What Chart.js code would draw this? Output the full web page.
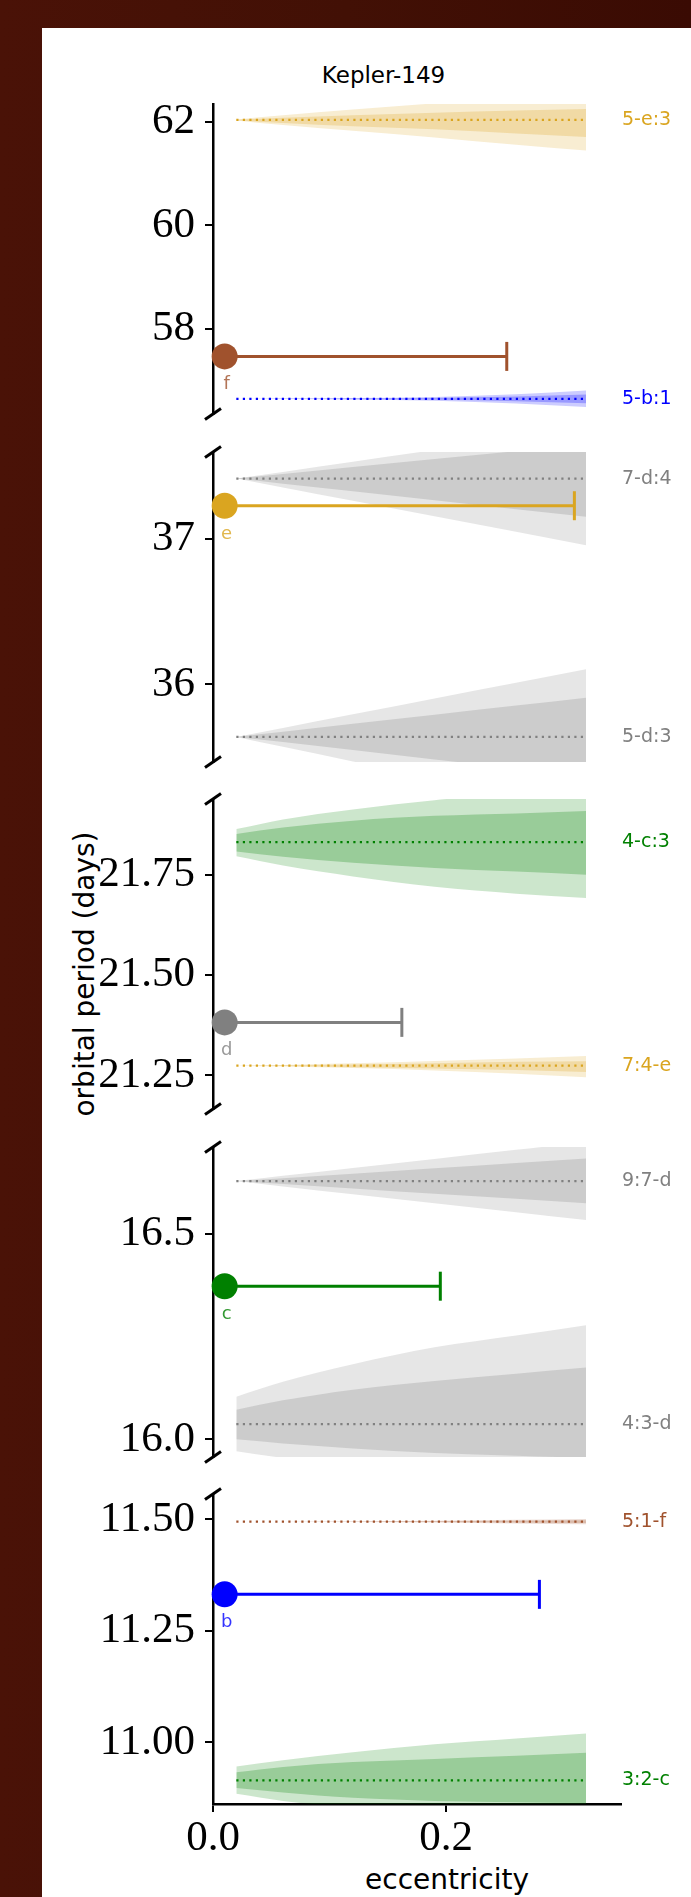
<!DOCTYPE html>
<html>
<head>
<meta charset="utf-8">
<title>Kepler-149</title>
<script src="https://cdn.jsdelivr.net/npm/chart.js@4/dist/chart.umd.min.js"></script>
<style>
  html, body { margin: 0; padding: 0; }
  body {
    width: 691px; height: 1897px; position: relative; overflow: hidden;
    background: linear-gradient(90deg, #4a1207 0%, #421005 50%, #3a0b03 100%);
  }
  #sheet { position: absolute; left: 42px; top: 28px; width: 649px; height: 1869px; background: #fff; }
  canvas { position: absolute; left: 0; }
  .txt { position: absolute; font-family: "DejaVu Sans", sans-serif; color: #000; white-space: nowrap; line-height: 1; }
  #title { left: 383.5px; top: 75px; font-size: 23px; transform: translate(-50%, -50%); }
  #ylab { left: 85px; top: 974px; font-size: 28px; transform: translate(-50%, -50%) rotate(-90deg); }
  #xlab { left: 447px; top: 1880px; font-size: 28px; transform: translate(-50%, -50%); }
</style>
</head>
<body>
<div id="sheet"></div>
<div class="txt" id="title">Kepler-149</div>
<div class="txt" id="ylab">orbital period (days)</div>
<div class="txt" id="xlab">eccentricity</div>
<script>
// ---- eccentricity axis ----
const X_MIN = 0;
const X_MAX = 0.35;
const X_TICKS = [0.0, 0.2];
const X_TICK_LABELS = ['0.0', '0.2'];

// ---- broken period axis: one segment per panel, top to bottom ----
const PANEL_MIN = [56.357, 35.465, 21.166, 15.957, 10.862];
const PANEL_MAX = [62.348, 37.600, 21.939, 16.712, 11.557];
const PANEL_TICKS = [[62, 60, 58], [37, 36], [21.75, 21.50, 21.25], [16.5, 16.0], [11.50, 11.25, 11.00]];
const PANEL_TICK_LABELS = [['62', '60', '58'], ['37', '36'], ['21.75', '21.50', '21.25'], ['16.5', '16.0'], ['11.50', '11.25', '11.00']];

// ---- planets: period (days), eccentricity and its upper limit ----
const PLANET_NAMES = ['f', 'e', 'd', 'c', 'b'];
const PLANET_PANEL = [0, 1, 2, 3, 4];
const PLANET_PERIOD = [57.47, 37.23, 21.382, 16.373, 11.332];
const PLANET_ECC = [0.01, 0.01, 0.01, 0.01, 0.01];
const PLANET_ECC_UPPER = [0.252, 0.31, 0.162, 0.195, 0.28];
const PLANET_COLOR = ['#a0522d', '#daa520', '#808080', '#008000', '#0000ff'];

// ---- mean-motion resonances near each planet ----
const RES_LABELS = ['5-e:3', '5-b:1', '7-d:4', '5-d:3', '4-c:3', '7:4-e', '9:7-d', '4:3-d', '5:1-f', '3:2-c'];
const RES_PANEL = [0, 0, 1, 1, 2, 2, 3, 3, 4, 4];
const RES_CENTER = [62.04, 56.65, 37.417, 35.638, 21.8315, 21.274, 16.629, 16.037, 11.495, 10.915];
const RES_COLOR = ['#daa520', '#0000ff', '#808080', '#808080', '#008000', '#daa520', '#808080', '#808080', '#a0522d', '#008000'];

// resonance widths sampled on this eccentricity grid
const BAND_ECC = [0.02, 0.06, 0.12, 0.19, 0.26, 0.32];
const RES_OUTER_HI = [
  [62.050, 62.130, 62.240, 62.360, 62.450, 62.520],
  [56.650, 56.655, 56.665, 56.685, 56.740, 56.810],
  [37.417, 37.463, 37.533, 37.614, 37.695, 37.765],
  [35.638, 35.700, 35.793, 35.902, 36.010, 36.104],
  [21.864, 21.888, 21.913, 21.936, 21.955, 21.968],
  [21.274, 21.276, 21.280, 21.286, 21.292, 21.298],
  [16.629, 16.642, 16.661, 16.683, 16.705, 16.724],
  [16.104, 16.140, 16.183, 16.224, 16.253, 16.278],
  [11.495, 11.495, 11.496, 11.497, 11.499, 11.501],
  [10.946, 10.960, 10.978, 10.996, 11.009, 11.020]
];
const RES_INNER_HI = [
  [62.045, 62.080, 62.130, 62.180, 62.220, 62.250],
  [56.650, 56.653, 56.658, 56.668, 56.695, 56.735],
  [37.417, 37.449, 37.496, 37.551, 37.606, 37.654],
  [35.638, 35.674, 35.728, 35.791, 35.854, 35.908],
  [21.852, 21.868, 21.885, 21.897, 21.903, 21.909],
  [21.274, 21.275, 21.277, 21.280, 21.284, 21.285],
  [16.629, 16.636, 16.647, 16.660, 16.673, 16.684],
  [16.072, 16.095, 16.121, 16.142, 16.160, 16.175],
  [11.495, 11.495, 11.495, 11.496, 11.497, 11.498],
  [10.933, 10.945, 10.956, 10.963, 10.970, 10.977]
];
const RES_INNER_LO = [
  [62.035, 61.980, 61.920, 61.860, 61.780, 61.710],
  [56.650, 56.647, 56.642, 56.632, 56.605, 56.565],
  [37.417, 37.382, 37.329, 37.268, 37.206, 37.154],
  [35.638, 35.602, 35.547, 35.483, 35.419, 35.365],
  [21.808, 21.795, 21.780, 21.767, 21.758, 21.750],
  [21.274, 21.273, 21.270, 21.267, 21.263, 21.258],
  [16.629, 16.622, 16.611, 16.598, 16.586, 16.575],
  [16.000, 15.990, 15.978, 15.967, 15.960, 15.955],
  [11.495, 11.495, 11.495, 11.494, 11.493, 11.492],
  [10.898, 10.888, 10.876, 10.869, 10.866, 10.864]
];
const RES_OUTER_LO = [
  [62.030, 61.940, 61.830, 61.700, 61.560, 61.450],
  [56.650, 56.645, 56.635, 56.615, 56.560, 56.490],
  [37.417, 37.356, 37.264, 37.157, 37.050, 36.958],
  [35.638, 35.570, 35.469, 35.350, 35.230, 35.130],
  [21.796, 21.773, 21.746, 21.720, 21.703, 21.692],
  [21.274, 21.272, 21.268, 21.262, 21.254, 21.245],
  [16.629, 16.616, 16.597, 16.575, 16.553, 16.534],
  [15.971, 15.955, 15.940, 15.925, 15.910, 15.900],
  [11.495, 11.495, 11.494, 11.493, 11.491, 11.489],
  [10.885, 10.869, 10.855, 10.845, 10.838, 10.832]
];

// ---- page layout (pixels) ----
const PAGE_W = 691, PAGE_H = 1897;
const PANEL_TOP = [104, 452, 799, 1147, 1494];
const AREA_H = 310;
const PAD = 40;
const AXIS_W = 213;
const RIGHT_PAD = 70;
const TICK_FONT = { family: '"Liberation Serif", serif', size: 43 };

function rgba(hex, a) {
  const n = parseInt(hex.slice(1), 16);
  return `rgba(${(n >> 16) & 255},${(n >> 8) & 255},${n & 255},${a})`;
}
function curve(ys) { return BAND_ECC.map((e, i) => ({ x: e, y: ys[i] })); }

// labels beside the resonances and under the planets, plus the axis-break ticks
const annotPlugin = {
  id: 'annot',
  afterDatasetsDraw(chart, args, o) {
    const { ctx, chartArea: a } = chart;
    const xs = chart.scales.x, ys = chart.scales.y;
    ctx.save();
    ctx.font = '19px "DejaVu Sans"';
    ctx.textAlign = 'left';
    ctx.textBaseline = 'middle';
    RES_PANEL.forEach((p, r) => {
      if (p !== o.panel) return;
      ctx.fillStyle = RES_COLOR[r];
      ctx.fillText(RES_LABELS[r], a.right + 1, ys.getPixelForValue(RES_CENTER[r]));
    });
    ctx.font = '18px "DejaVu Sans"';
    ctx.textAlign = 'center';
    ctx.textBaseline = 'alphabetic';
    PLANET_PANEL.forEach((p, i) => {
      if (p !== o.panel) return;
      ctx.globalAlpha = 0.8;
      ctx.fillStyle = PLANET_COLOR[i];
      ctx.fillText(PLANET_NAMES[i], xs.getPixelForValue(PLANET_ECC[i]) + 2, ys.getPixelForValue(PLANET_PERIOD[i]) + 33);
    });
    ctx.globalAlpha = 1;
    ctx.strokeStyle = '#000';
    ctx.lineWidth = 3;
    const mark = (yy) => {
      ctx.beginPath();
      ctx.moveTo(a.left - 8, yy + 5.5);
      ctx.lineTo(a.left + 8, yy - 5.5);
      ctx.stroke();
    };
    if (!o.first) mark(a.top);
    if (!o.last) mark(a.bottom);
    ctx.restore();
  }
};

PANEL_TOP.forEach((top, p) => {
  const first = p === 0;
  const last = p === PANEL_TOP.length - 1;
  const cTop = top - PAD;
  const cH = last ? PAGE_H - cTop : AREA_H + 2 * PAD;
  const cv = document.createElement('canvas');
  cv.width = PAGE_W;
  cv.height = cH;
  cv.style.top = cTop + 'px';
  cv.style.width = PAGE_W + 'px';
  cv.style.height = cH + 'px';
  document.body.appendChild(cv);

  const datasets = [];
  RES_PANEL.forEach((rp, r) => {
    if (rp !== p) return;
    const col = RES_COLOR[r];
    const band = { type: 'line', borderWidth: 0, pointRadius: 0, cubicInterpolationMode: 'monotone' };
    datasets.push({ ...band, data: curve(RES_OUTER_HI[r]), fill: '+1', backgroundColor: rgba(col, 0.2), order: 6 });
    datasets.push({ ...band, data: curve(RES_OUTER_LO[r]), fill: false, order: 6 });
    datasets.push({ ...band, data: curve(RES_INNER_HI[r]), fill: '+1', backgroundColor: rgba(col, 0.25), order: 5 });
    datasets.push({ ...band, data: curve(RES_INNER_LO[r]), fill: false, order: 5 });
    datasets.push({
      type: 'line', order: 4, fill: false, pointRadius: 0,
      data: [{ x: BAND_ECC[0], y: RES_CENTER[r] }, { x: BAND_ECC[BAND_ECC.length - 1], y: RES_CENTER[r] }],
      borderColor: col, borderWidth: 2.2, borderDash: [2.2, 4.3]
    });
  });
  PLANET_PANEL.forEach((pp, i) => {
    if (pp !== p) return;
    const col = PLANET_COLOR[i];
    datasets.push({
      type: 'line', order: 2, fill: false, clip: false,
      data: [{ x: PLANET_ECC[i], y: PLANET_PERIOD[i] }, { x: PLANET_ECC_UPPER[i], y: PLANET_PERIOD[i] }],
      borderColor: col, borderWidth: 3,
      pointRadius: (c) => (c.dataIndex === 1 ? 14.5 : 0),
      pointStyle: 'line', pointRotation: 90, pointBorderColor: col, pointBorderWidth: 3
    });
    datasets.push({
      type: 'scatter', order: 1, clip: false,
      data: [{ x: PLANET_ECC[i], y: PLANET_PERIOD[i] }],
      pointRadius: 13, pointBackgroundColor: col, pointBorderWidth: 0
    });
  });

  new Chart(cv.getContext('2d'), {
    type: 'line',
    data: { datasets },
    options: {
      responsive: false,
      animation: false,
      devicePixelRatio: 1,
      events: [],
      layout: { padding: { left: 0, right: RIGHT_PAD, top: PAD, bottom: last ? 0 : PAD } },
      plugins: {
        legend: { display: false },
        tooltip: { enabled: false },
        annot: { panel: p, first, last }
      },
      scales: {
        x: {
          type: 'linear', min: X_MIN, max: X_MAX, position: 'bottom', display: last,
          afterFit: (s) => { s.height = last ? cH - PAD - AREA_H : 0; },
          afterBuildTicks: (s) => { s.ticks = X_TICKS.map((v) => ({ value: v })); },
          ticks: { callback: (v, i) => X_TICK_LABELS[i], font: TICK_FONT, color: '#000', padding: 1, maxRotation: 0, autoSkip: false },
          grid: { drawOnChartArea: false, drawTicks: true, tickLength: 8, color: '#000', lineWidth: 2 },
          border: { display: true, color: '#000', width: 2.5 }
        },
        y: {
          type: 'linear', min: PANEL_MIN[p], max: PANEL_MAX[p], position: 'left',
          afterFit: (s) => { s.width = AXIS_W; },
          afterBuildTicks: (s) => { s.ticks = PANEL_TICKS[p].map((v) => ({ value: v })); },
          ticks: { callback: (v, i) => PANEL_TICK_LABELS[p][i], font: TICK_FONT, color: '#000', padding: 10, autoSkip: false },
          grid: { drawOnChartArea: false, drawTicks: true, tickLength: 8, color: '#000', lineWidth: 2 },
          border: { display: true, color: '#000', width: 2.5 }
        }
      }
    },
    plugins: [annotPlugin]
  });
});
</script>
</body>
</html>
